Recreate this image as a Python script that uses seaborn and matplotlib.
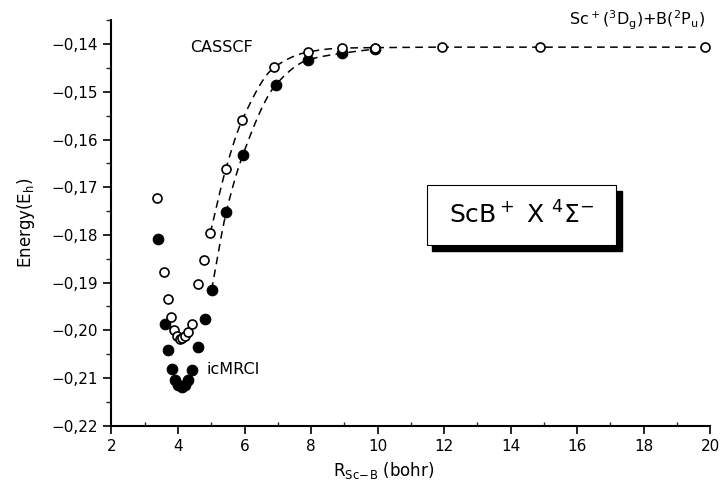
import numpy as np
import pandas as pd
import matplotlib
matplotlib.use("Agg")
import matplotlib.pyplot as plt
from matplotlib.patches import Rectangle
from matplotlib.ticker import MultipleLocator, FuncFormatter
import seaborn as sns

# Potential energy curve of ScB+ (X 4Sigma-), energies in hartree offset
r_casscf = [3.38, 3.59, 3.69, 3.79, 3.88, 3.96, 4.05, 4.13, 4.22, 4.31, 4.41,
            4.59, 4.79, 4.97, 5.44, 5.93, 6.90, 7.92, 8.92, 9.92, 11.93, 14.89, 19.85]
e_casscf = [-0.1723, -0.1878, -0.1934, -0.1973, -0.2000, -0.2012, -0.2018,
            -0.2017, -0.2012, -0.2003, -0.1986, -0.1903, -0.1852, -0.1796,
            -0.1661, -0.1559, -0.1448, -0.1416, -0.1408, -0.1407, -0.1406,
            -0.1406, -0.1406]

r_mrci = [3.39, 3.60, 3.71, 3.81, 3.91, 4.01, 4.11, 4.21, 4.31, 4.43,
          4.60, 4.81, 5.01, 5.45, 5.95, 6.94, 7.90, 8.92, 9.92]
e_mrci = [-0.1809, -0.1986, -0.2042, -0.2081, -0.2104, -0.2114, -0.2119,
          -0.2114, -0.2104, -0.2084, -0.2035, -0.1977, -0.1915, -0.1752,
          -0.1632, -0.1485, -0.1433, -0.1419, -0.1410]

x_ticks = [2, 4, 6, 8, 10, 12, 14, 16, 18, 20]
y_ticks = [-0.22, -0.21, -0.20, -0.19, -0.18, -0.17, -0.16, -0.15, -0.14]

# the dashed guide curves start on the repulsive-to-asymptote branch
curve_start = 4.95


def pchip(x, y, xs):
    """Monotone cubic Hermite curve through (x, y) evaluated at xs."""
    x = np.asarray(x, float)
    y = np.asarray(y, float)
    h = np.diff(x)
    d = np.diff(y) / h
    m = np.zeros_like(y)
    m[0], m[-1] = d[0], d[-1]
    for k in range(1, len(x) - 1):
        if d[k - 1] * d[k] > 0:
            w1 = 2 * h[k] + h[k - 1]
            w2 = h[k] + 2 * h[k - 1]
            m[k] = (w1 + w2) / (w1 / d[k - 1] + w2 / d[k])
    idx = np.clip(np.searchsorted(x, xs) - 1, 0, len(x) - 2)
    t = (xs - x[idx]) / h[idx]
    h00 = 2 * t**3 - 3 * t**2 + 1
    h10 = t**3 - 2 * t**2 + t
    h01 = -2 * t**3 + 3 * t**2
    h11 = t**3 - t**2
    return (h00 * y[idx] + h10 * h[idx] * m[idx]
            + h01 * y[idx + 1] + h11 * h[idx] * m[idx + 1])


def guide_curve(r, e, label):
    r = np.asarray(r)
    e = np.asarray(e)
    keep = r >= curve_start
    xs = np.linspace(r[keep][0], r[keep][-1], 300)
    return pd.DataFrame({"r": xs, "e": pchip(r[keep], e[keep], xs), "method": label})


sns.set_style("ticks")
plt.rcParams["font.family"] = ["DejaVu Sans"]
plt.rcParams["mathtext.fontset"] = "dejavusans"
plt.rcParams["text.color"] = "black"
plt.rcParams["axes.labelcolor"] = "black"

fig = plt.figure(figsize=(7.24, 4.87), dpi=100)
ax = fig.add_axes([0.154, 0.126, 0.827, 0.832])

pts_cas = pd.DataFrame({"r": r_casscf, "e": e_casscf})
pts_mrci = pd.DataFrame({"r": r_mrci, "e": e_mrci})

sns.lineplot(data=guide_curve(r_casscf, e_casscf, "CASSCF"), x="r", y="e",
             ax=ax, legend=False, zorder=2, color="black", linewidth=1.1)
sns.lineplot(data=guide_curve(r_mrci, e_mrci, "icMRCI"), x="r", y="e",
             ax=ax, legend=False, zorder=2, color="black", linewidth=1.1)
for ln in ax.lines:
    ln.set_dashes((5, 3.5))

sns.scatterplot(data=pts_mrci, x="r", y="e", ax=ax, s=58, color="black",
                edgecolor="black", linewidth=0.8, zorder=3)
sns.scatterplot(data=pts_cas, x="r", y="e", ax=ax, s=42, facecolor="white",
                edgecolor="black", linewidth=1.2, zorder=4)

ax.set_xlim(2, 20)
ax.set_ylim(-0.22, -0.135)
ax.set_xticks(x_ticks)
ax.set_yticks(y_ticks)
ax.xaxis.set_minor_locator(MultipleLocator(1))
ax.yaxis.set_minor_locator(MultipleLocator(0.005))
ax.yaxis.set_major_formatter(
    FuncFormatter(lambda v, p: f"{v:.2f}".replace(".", ",").replace("-", "\u2212")))

ax.tick_params(axis="both", which="major", direction="out", length=6,
               width=1.2, labelsize=11, color="black", labelcolor="black")
ax.tick_params(axis="y", which="major", pad=4)
ax.tick_params(axis="x", which="minor", direction="in", length=3, width=1.0)
ax.tick_params(axis="y", which="minor", direction="out", length=3.5, width=1.0)

for side in ("top", "right"):
    ax.spines[side].set_visible(False)
for side in ("left", "bottom"):
    ax.spines[side].set_linewidth(1.5)
    ax.spines[side].set_color("black")

ax.set_xlabel(r"R$_{\mathrm{Sc\!-\!B}}$ (bohr)", fontsize=12)
ax.set_ylabel(r"Energy(E$_{\mathrm{h}}$)", fontsize=12)
ax.xaxis.set_label_coords(0.455, -0.085)
ax.yaxis.set_label_coords(-0.125, 0.5)

ax.text(5.3, -0.1406, "CASSCF", fontsize=11.5, ha="center", va="center")
ax.text(4.87, -0.2083, "icMRCI", fontsize=11.5, ha="left", va="center")
ax.text(19.85, -0.1349,
        r"Sc$^+$($^3$D$_{\mathrm{g}}$)+B($^2$P$_{\mathrm{u}}$)",
        fontsize=11.5, ha="right", va="center", clip_on=False)

# title box with a drop shadow, placed in axes fraction
bx, by, bw, bh = 0.527, 0.446, 0.316, 0.149
ax.add_patch(Rectangle((bx + 0.009, by - 0.016), bw, bh, transform=ax.transAxes,
                       facecolor="black", edgecolor="black", zorder=5))
ax.add_patch(Rectangle((bx, by), bw, bh, transform=ax.transAxes,
                       facecolor="white", edgecolor="black", linewidth=0.8, zorder=6))
ax.text(bx + bw / 2, by + bh / 2, "ScB$^+$ X $^4\\Sigma^{-}$", transform=ax.transAxes,
        fontsize=18, ha="center", va="center", zorder=7)

fig.savefig("out.png", dpi=100)
